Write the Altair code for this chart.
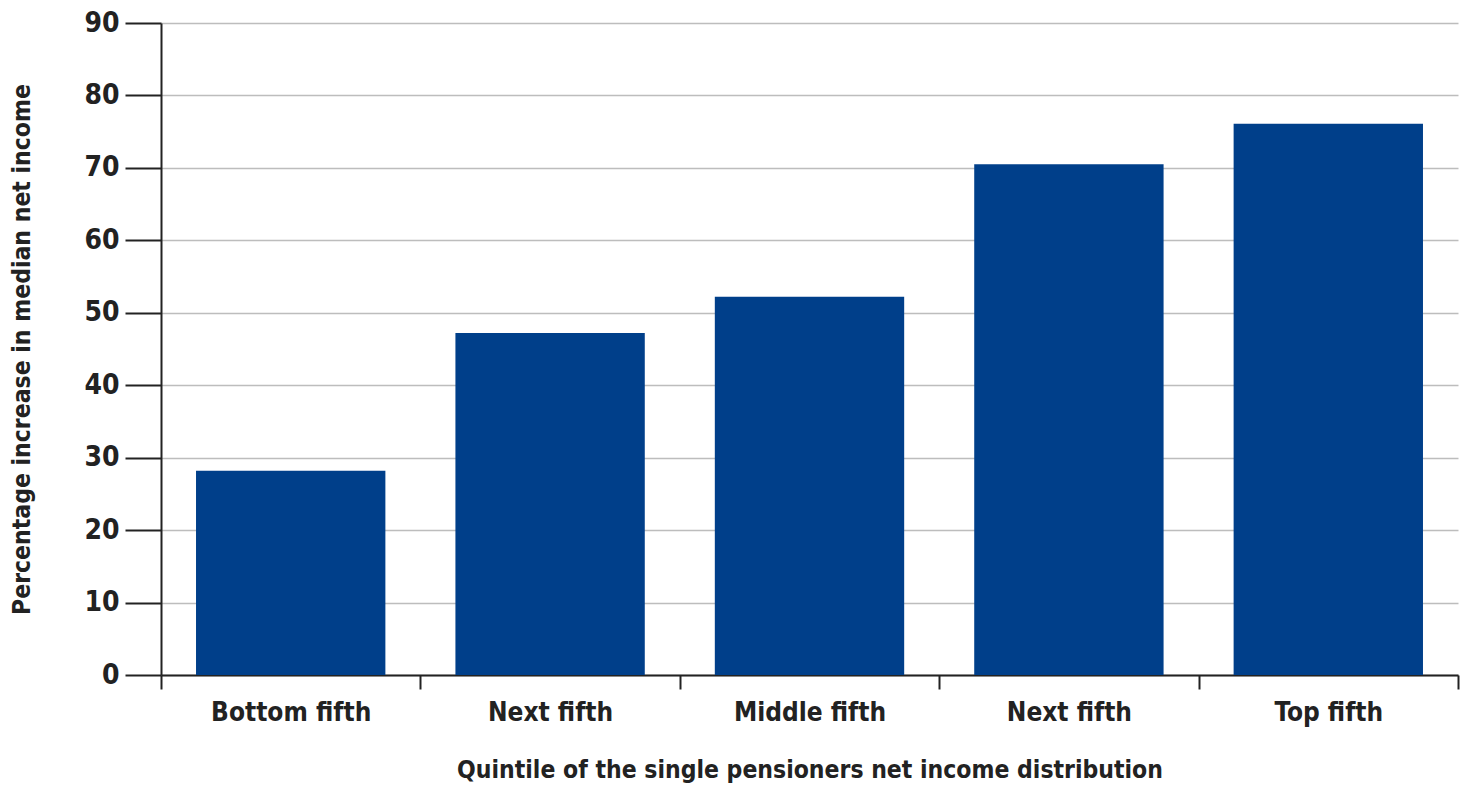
import altair as alt
import pandas as pd

categories = ["Bottom fifth", "Next fifth", "Middle fifth", "Next fifth ", "Top fifth"]
values = [28.2, 47.2, 52.2, 70.5, 76.1]

df = pd.DataFrame({"cat": categories, "val": values})

FONT = "'Liberation Sans Narrow', 'DejaVu Sans Condensed', 'Open Sans', sans-serif"

chart = alt.Chart(df).mark_bar(color="#003F8A", width=alt.RelativeBandSize(0.73)).encode(
    x=alt.X("cat:N", sort=categories, title="Quintile of the single pensioners net income distribution",
            scale=alt.Scale(paddingInner=0, paddingOuter=0),
            axis=alt.Axis(labelExpr="trim(datum.label)", tickBand="extent", tickSize=14,
                          labelAngle=0, labelFontSize=26, labelFontWeight="bold", labelPadding=10,
                          titleFontSize=24.5, titleFontWeight="bold", titlePadding=33,
                          domainColor="#222", tickColor="#222", tickWidth=2, domainWidth=2,
                          labelColor="#222", titleColor="#222", labelFont=FONT, titleFont=FONT)),
    y=alt.Y("val:Q", title="Percentage increase in median net income",
            scale=alt.Scale(domain=[0, 90], nice=False),
            axis=alt.Axis(values=list(range(0, 91, 10)), tickSize=36, labelFontSize=28,
                          labelFontWeight="bold", labelPadding=6, titleFontSize=24.5,
                          titleFontWeight="bold", titlePadding=49,
                          gridColor="#bdbdbd", gridWidth=1.5,
                          domainColor="#222", tickColor="#222", tickWidth=2, domainWidth=2,
                          labelColor="#222", titleColor="#222", labelFont=FONT, titleFont=FONT)),
).properties(
    width=1297, height=652,
    autosize=alt.AutoSizeParams(type="none"),
    padding={"left": 161, "top": 23, "right": 8, "bottom": 111},
).configure_view(stroke=None)

chart.save("out.html", embed_options={"renderer": "svg", "actions": False})
